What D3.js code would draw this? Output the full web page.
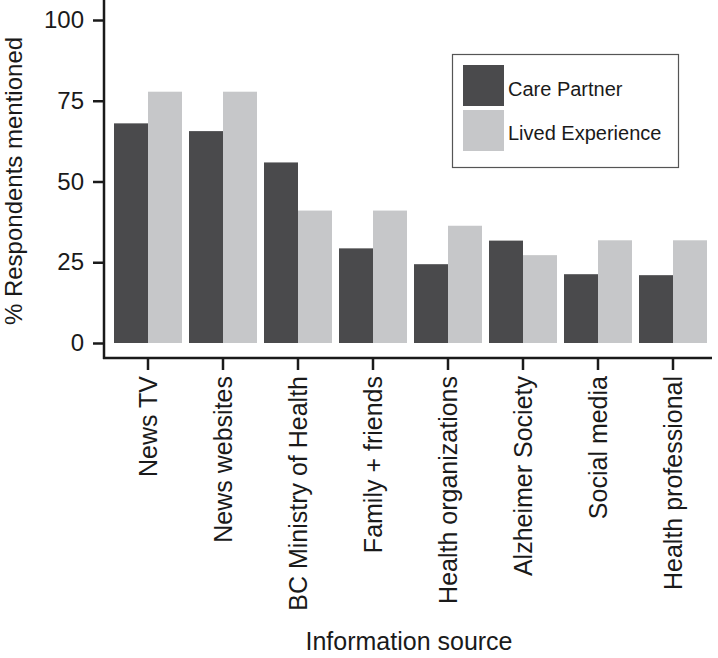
<!DOCTYPE html>
<html><head><meta charset="utf-8">
<script src="https://cdn.jsdelivr.net/npm/d3@7"></script>
<style>
html,body{margin:0;padding:0;background:#fff;}
text{font-family:"Liberation Sans",Arial,sans-serif;fill:#1a1a1a;}
</style></head>
<body>
<svg id="chart" width="718" height="658"></svg>
<script>
const categories = ["News TV","News websites","BC Ministry of Health","Family + friends","Health organizations","Alzheimer Society","Social media","Health professional"];
const seriesNames = ["Care Partner","Lived Experience"];
const carePartner = [68.0,65.6,55.9,29.3,24.4,31.7,21.3,21.0];
const livedExperience = [77.8,77.8,41.0,41.0,36.3,27.2,31.8,31.8];
const yTicks = [0,25,50,75,100];
const colors = ["#4a4a4c","#c6c7c9"];

const svg = d3.select("#chart");
const y = d3.scaleLinear().domain([0,100]).range([343,20]);
const x = d3.scaleBand().domain(categories).range([110.5,710.5]).paddingInner(7/75).paddingOuter(3.5/75);
const xs = d3.scaleBand().domain(seriesNames).range([0,x.bandwidth()]).padding(0);
const values = [carePartner, livedExperience];

const groups = svg.append("g").selectAll("g").data(categories).join("g")
  .attr("transform", d => `translate(${x(d)},0)`);
groups.selectAll("rect").data((d,i) => seriesNames.map((s,j) => ({s, v: values[j][i], j})))
  .join("rect")
  .attr("x", d => xs(d.s))
  .attr("width", xs.bandwidth())
  .attr("y", d => y(d.v))
  .attr("height", d => y(0) - y(d.v))
  .attr("fill", d => colors[d.j]);

// y axis
const yAxis = svg.append("g").attr("transform","translate(104,0)")
  .call(d3.axisLeft(y).tickValues(yTicks).tickSize(11).tickPadding(9));
yAxis.select(".domain").remove();
yAxis.selectAll(".tick line").attr("stroke","#1a1a1a").attr("stroke-width",2.5);
yAxis.selectAll(".tick text").attr("font-size",24).attr("fill","#1a1a1a");
svg.append("line").attr("x1",104).attr("x2",104).attr("y1",0).attr("y2",359)
  .attr("stroke","#1a1a1a").attr("stroke-width",2.5);

// x axis
const xAxis = svg.append("g").attr("transform","translate(0,358)")
  .call(d3.axisBottom(x).tickSize(12).tickFormat(""));
xAxis.select(".domain").remove();
xAxis.selectAll(".tick line").attr("stroke","#1a1a1a").attr("stroke-width",2.5);
svg.append("line").attr("x1",103).attr("x2",712).attr("y1",358).attr("y2",358)
  .attr("stroke","#1a1a1a").attr("stroke-width",2.5);
svg.append("g").selectAll("text").data(categories).join("text")
  .attr("transform", d => `translate(${x(d)+x.bandwidth()/2},376) rotate(-90)`)
  .attr("text-anchor","end").attr("dy","0.35em").attr("font-size",25)
  .text(d => d);

// axis titles
svg.append("text").attr("x",409).attr("y",650).attr("text-anchor","middle")
  .attr("font-size",25).text("Information source");
svg.append("text").attr("transform","translate(22,181) rotate(-90)")
  .attr("text-anchor","middle").attr("font-size",24).text("% Respondents mentioned");

// legend
const lg = svg.append("g");
lg.append("rect").attr("x",452.5).attr("y",54.5).attr("width",226).attr("height",113)
  .attr("fill","#fff").attr("stroke","#555").attr("stroke-width",1.2);
seriesNames.forEach((s,i) => {
  lg.append("rect").attr("x",463).attr("y",65+i*45).attr("width",41).attr("height",41).attr("fill",colors[i]);
  lg.append("text").attr("x",508).attr("y",96+i*44).attr("font-size",20).text(s);
});
</script>
</body></html>
